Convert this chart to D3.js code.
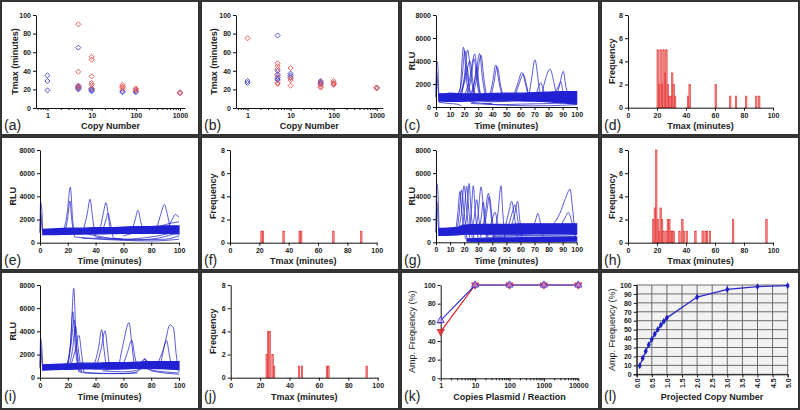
<!DOCTYPE html>
<html><head><meta charset="utf-8">
<script src="https://cdn.jsdelivr.net/npm/d3@7"></script>
<style>
body{margin:0;background:#fff}
svg{display:block}
text{font-family:"Liberation Sans",Arial,sans-serif}
</style>
</head><body>
<svg id="fig" width="800" height="410"></svg>
<script>
// ---------------- DATA ----------------
// (a) & (b) scatter: [copy number, Tmax]
const aBlue = [[1,35],[1,29],[1,19],[5,65],[5,24],[5,23],[5,22],[5,21],[5,20],[10,21],[10,20],[10,19],[10,18],[50,18],[50,17],[100,18],[100,17],[1000,16]];
const aRed  = [[5,90],[5,39],[5,24],[5,22],[10,55],[10,52],[10,34],[10,27],[10,25],[10,21],[50,25],[50,23],[50,22],[50,20],[100,21],[100,20],[100,19],[1000,17],[1000,16]];
const bBlue = [[1,29],[1,27],[5,78],[5,40],[5,36],[5,33],[5,31],[5,30],[10,37],[10,35],[10,33],[50,29],[50,27],[50,26],[100,26],[1000,22]];
const bRed  = [[1,75],[5,48],[5,45],[5,42],[5,35],[5,27],[5,26],[10,43],[10,32],[10,30],[10,24],[50,28],[50,25],[50,23],[50,22],[100,29],[100,27],[100,26],[100,25],[1000,22],[1000,21]];
const copyTicks = [1,10,100,1000];
const tmaxTicks = [0,20,40,60,80,100];

// histograms: [Tmax bin, frequency]
const dBins = [[20,5],[21,2],[22,5],[23,2],[24,5],[25,3],[26,5],[27,2],[28,1],[29,1],[30,3],[31,2],[32,1],[41,1],[42,2],[60,2],[70,1],[74,1],[81,1],[88,1],[90,1]];
const fBins = [[21,1],[22,1],[36,1],[47,1],[48,1],[70,1],[89,1]];
const hBins = [[17,2],[18,3],[19,8],[20,2],[21,1],[22,3],[23,2],[24,1],[26,1],[27,2],[28,2],[29,1],[30,1],[31,1],[35,1],[37,2],[38,1],[40,1],[46,1],[51,1],[53,1],[54,1],[56,1],[72,2],[95,2]];
const jBins = [[24,2],[25,4],[26,4],[28,2],[29,1],[46,1],[48,1],[65,1],[66,1],[92,1]];
const freqTicks = [0,2,4,6,8];

// RLU time courses. Baseline band: time, low, high
const cBandT  = [2,5,10,20,30,40,50,60,70,80,90,95,100];
const cBandLo = [500,500,480,500,520,540,540,520,500,450,350,300,250];
const cBandHi = [1150,1150,1200,1150,1150,1180,1200,1200,1250,1300,1350,1350,1350];
const cSpikes = [[[0,900],[0.4,4000],[1.2,3700],[2,800]],[[0,800],[0.5,3000],[1.5,1500],[2.5,700]]];
const cPeaks = [
 [[13,900],[17,1500],[19.5,5200],[22,2000],[25,400],[40,300]],
 [[15,900],[18.5,2500],[20.5,4900],[23,2000],[26,600]],
 [[16,900],[20,2500],[22.5,4950],[25,2500],[28,700]],
 [[17,900],[21,2500],[24,4000],[27,1500],[30,600]],
 [[18,900],[20,2200],[22,3500],[24,1500],[27,400]],
 [[20,900],[24,2500],[27.5,4600],[30,2000],[33,500]],
 [[21,900],[25,2500],[27,4200],[30,1500],[32,700]],
 [[24,900],[28,2500],[31,4650],[33,2500],[36,500]],
 [[26,900],[29,2500],[32,4500],[34,2500],[36,800]],
 [[25,900],[27,2000],[29,3500],[31,1500],[34,500]],
 [[38,900],[40,2000],[42.5,3650],[45,2000],[48,600]],
 [[39,900],[41,2000],[43.5,3500],[46,1800],[48,800]],
 [[55,900],[58,2000],[61,3000],[64,1800],[66,700]],
 [[56,900],[59,2000],[62,2850],[64.5,1800],[66,900]],
 [[66,900],[68,2500],[70.3,4100],[72.5,2500],[74,900]],
 [[71,1000],[73,1800],[74.5,2100],[76,1600],[78,900]],
 [[75,1000],[78,2500],[81,3300],[84,2000],[86,800]],
 [[84,1000],[87,1800],[88.8,2200],[90,1500],[91,1000]],
 [[86,1000],[88,2000],[90.5,3100],[92,2000],[94,800]]
];
const cLows = [
 [[2,400],[10,300],[15,250],[18,100]],
 [[25,300],[35,250],[45,200],[60,250],[80,300],[100,400]],
 [[30,650],[40,450],[50,500],[60,700]],
 [[33,300],[50,150],[70,100],[90,150],[100,200]]
];

const eBandT  = [2,10,20,30,40,50,60,70,80,90,100];
const eBandLo = [700,700,720,740,760,780,800,800,800,800,750];
const eBandHi = [1150,1200,1250,1250,1300,1300,1350,1400,1400,1450,1450];
const eSpikes = [[[0,900],[0.4,3500],[1.2,3000],[2,700]],[[0,800],[0.6,2500],[1.5,1200],[2.5,800]]];
const ePeaks = [
 [[17,1000],[19.5,2500],[21.8,4800],[23.5,2000],[25,500],[35,400],[50,300],[70,250],[85,400],[100,900]],
 [[18,1000],[20,2200],[21.5,3600],[23,1800],[25,800]],
 [[31,1000],[34,2500],[36,3750],[38,2000],[40,500],[60,300]],
 [[43,1000],[45.5,2500],[47.5,3450],[49.5,2000],[51,800]],
 [[45,1000],[47.5,2000],[49,2550],[50.5,1800],[53,400],[70,250],[90,300],[100,600]],
 [[66,1000],[68.5,2000],[70.5,2800],[72.5,1800],[75,900]],
 [[84,1200],[87,2500],[89.5,3300],[91.5,2500],[94,1000]],
 [[92,1300],[95,2000],[97.5,2450],[99,2300],[100,2200]]
];
const eLows = [
 [[25,1000],[40,600],[60,300],[80,500],[100,1000]],
 [[60,600],[80,1200],[97,1750],[100,1800]],
 [[30,400],[60,200],[80,150],[100,300]]
];

const gBandT  = [2,10,15,20,30,40,50,60,70,80,90,100];
const gBandLo = [600,620,650,700,700,700,700,700,720,720,720,700];
const gBandHi = [1200,1250,1300,1500,1550,1550,1550,1600,1600,1600,1600,1600];
const gBand2T  = [22,30,40,60,80,100];
const gBand2Lo = [100,80,80,80,80,100];
const gBand2Hi = [300,350,380,400,420,450];
const gSpikes = [[[0,900],[0.5,5100],[1.3,4500],[2.2,800]],[[0,800],[0.6,3500],[1.6,1500],[2.6,700]]];
const gPeaks = [
 [[14,1000],[15.5,2500],[17,4400],[18.5,2500],[21,300]],
 [[15,1000],[16.5,2500],[18.2,4550],[20,2500],[22,300]],
 [[16,1000],[18,2500],[19.9,4900],[22,2500],[24,300]],
 [[18,1000],[20,2500],[21.8,4850],[23.5,2500],[26,200]],
 [[20,1000],[22,2500],[23.5,5100],[25,2500],[27,300]],
 [[23,1000],[25,2500],[26.5,4900],[28,2500],[30,300]],
 [[25,1000],[27,2000],[28.9,3700],[30.5,2000],[32,400]],
 [[28,1000],[30,2500],[32,4800],[34,2500],[36,300]],
 [[30,1000],[32,2000],[33.6,3500],[35,2000],[37,400]],
 [[33,1000],[35,2500],[37.2,4250],[39,2500],[41,300]],
 [[34,1000],[36,2500],[37.9,3950],[40,2000],[42,500]],
 [[38,1200],[40,2000],[41.9,2600],[43.5,1800],[45,600]],
 [[42,1200],[44,2500],[46.2,4900],[47.5,2500],[49,300]],
 [[49,1200],[51.5,2500],[53.8,3550],[56,2000],[58,500]],
 [[51,1200],[54,2500],[56.2,3250],[58,2000],[60,600]],
 [[53,1200],[56,2500],[58,3550],[59.5,2000],[61,500]],
 [[69,1300],[71,2000],[72.3,2500],[74,1800],[76,500]],
 [[83,1500],[88,2500],[92,3800],[95.3,4600],[97,3000],[99,500]],
 [[89,1500],[92,2200],[94.1,2600],[96,2000],[98,900]]
];
const gLows = [
 [[35,650],[60,600],[80,620],[100,650]],
 [[40,500],[70,550],[100,500]]
];

const iBandT  = [2,10,20,30,40,50,60,70,80,90,100];
const iBandLo = [650,700,720,750,760,780,800,800,780,760,700];
const iBandHi = [1100,1150,1200,1250,1250,1300,1300,1350,1400,1400,1400];
const iSpikes = [[[0,900],[0.4,3400],[1.2,2800],[2,700]],[[0,800],[0.6,2600],[1.5,1200],[2.5,800]]];
const iPeaks = [
 [[19,1000],[22,3000],[24.3,7700],[26,3000],[28,600]],
 [[19,1000],[22,3000],[23.6,5700],[25.5,2500],[28,500]],
 [[20,1000],[22.5,3000],[24.5,5000],[26.5,2500],[29,500]],
 [[21,1000],[23.5,2500],[25.5,4500],[27.5,2500],[30,400]],
 [[22,1000],[25,2200],[28,3650],[30,2000],[32,400],[50,350],[70,400]],
 [[39,1100],[42,2500],[44.4,4150],[46,2500],[48,600]],
 [[41,1100],[44,2500],[46.8,4050],[48.5,2500],[50,700]],
 [[57,1200],[60,3000],[64,4750],[66,3000],[68,800]],
 [[60,1200],[63,2200],[66,3250],[68,2000],[70,800]],
 [[85,1300],[88,2200],[91.1,3200],[93,2000],[95,800]],
 [[87,1300],[90,3000],[93.5,4550],[96,4300],[98,2000],[100,500]]
];
const iLows = [
 [[28,500],[40,400],[60,350],[70,500],[75.5,1650],[78,700],[90,500],[100,400]],
 [[30,900],[50,700],[70,800],[75.5,1600],[80,900],[100,800]],
 [[45,600],[60,500],[74,800],[76,1500],[80,600],[100,300]]
];
const timeTicks10 = [0,10,20,30,40,50,60,70,80,90,100];
const timeTicks20 = [0,20,40,60,80,100];
const rluTicks = [0,2000,4000,6000,8000];

// (k) amplification frequency vs copies plasmid
const kCopies = [1,10,100,1000,10000];
const kBlue = [62,100,100,100,100];
const kRed  = [50,100,100,100,100];
const kYTicks = [0,20,40,60,80,100];

// (l) projected copy number vs amp. frequency
const lCopies = [0.1,0.2,0.3,0.4,0.5,0.6,0.7,0.8,0.9,1.0,2.0,3.0,4.0,5.0];
const lFreq   = [9.5,18.1,25.9,33.0,39.3,45.1,50.3,55.1,59.3,63.2,86.5,95.0,98.2,99.3];
const lXTicks = [0,0.5,1,1.5,2,2.5,3,3.5,4,4.5,5];
const lYTicks = [0,10,20,30,40,50,60,70,80,90,100];

// ---------------- DRAWING ----------------
const svg = d3.select("#fig");
const BLUE = "#2a2ad2", RED = "#e03a3a";
const LINEBLUE = "#2626cc";

// panel frames
const rowTops = [0,136,271], rowHs = [136,135,139];
rowTops.forEach((t,ri)=>{
  for(let c=0;c<4;c++){
    svg.append("rect").attr("x",c*200+1).attr("y",t+1).attr("width",198).attr("height",rowHs[ri]-2)
      .attr("fill","#fff").attr("stroke","#333").attr("stroke-width",2);
  }
});

function styleAxis(g, bold=true){
  g.select(".domain").attr("stroke","#111").attr("stroke-width",1);
  g.selectAll(".tick line").attr("stroke","#111").attr("stroke-width",1);
  g.selectAll(".tick text").attr("font-size","7px").attr("font-weight",bold?"bold":"normal")
    .attr("fill","#222").attr("font-family",'"Liberation Sans",Arial,sans-serif');
}
function yAxis(x0, y, ticks, fmt){
  const g = svg.append("g").attr("transform",`translate(${x0},0)`)
    .call(d3.axisLeft(y).tickValues(ticks).tickSize(3).tickSizeOuter(0).tickPadding(2).tickFormat(fmt||d3.format("d")));
  styleAxis(g); return g;
}
function xAxis(y0, x, ticks, fmt){
  const g = svg.append("g").attr("transform",`translate(0,${y0})`)
    .call(d3.axisBottom(x).tickValues(ticks).tickSize(3).tickSizeOuter(0).tickPadding(2).tickFormat(fmt||d3.format("d")));
  styleAxis(g); return g;
}
function minorX(y0, x, ticks){
  const g = svg.append("g").attr("transform",`translate(0,${y0})`)
    .call(d3.axisBottom(x).tickValues(ticks).tickSize(2).tickFormat(""));
  g.select(".domain").remove();
  g.selectAll(".tick line").attr("stroke","#111");
}
function logMinors(lo, hi){
  const out=[];
  for(let p=lo;p<hi;p*=10){ for(let k=2;k<10;k++) out.push(p*k); }
  return out;
}
function label(x,y,txt,opts={}){
  const t = svg.append("text").attr("x",x).attr("y",y).text(txt)
    .attr("font-size",opts.size||"9px").attr("font-weight",opts.weight||"bold")
    .attr("fill",opts.fill||"#222").attr("text-anchor",opts.anchor||"middle");
  return t;
}
function yLabel(x,y,txt,opts={}){
  svg.append("text").attr("transform",`translate(${x},${y}) rotate(-90)`).attr("dy","0.35em")
    .attr("text-anchor","middle").attr("font-size",opts.size||"9px").attr("font-weight",opts.weight||"bold")
    .attr("fill","#222").text(txt);
}
function panelLetter(x,y,txt){
  svg.append("text").attr("x",x).attr("y",y).text(txt).attr("font-size","14px").attr("fill","#222");
}

// --- scatter panels ---
const diamond = d3.symbol().type(d3.symbolSquare).size(13);
function scatterPanel(o){
  const x = d3.scaleLog().domain(o.xd).range([o.x0,o.x1]);
  const y = d3.scaleLinear().domain([0,100]).range([o.y0,o.y1]);
  yAxis(o.x0, y, tmaxTicks);
  xAxis(o.y0, x, copyTicks);
  minorX(o.y0, x, logMinors(1,1000).concat([0.6,0.7,0.8,0.9]));
  const g = svg.append("g");
  [[o.blue,"#4848d0"],[o.red,"#e85858"]].forEach(([data,col])=>{
    g.selectAll(null).data(data).enter().append("path")
      .attr("d",diamond).attr("transform",d=>`translate(${x(d[0])},${y(d[1])}) rotate(45)`)
      .attr("fill","none").attr("stroke",col).attr("stroke-width",0.9);
  });
  yLabel(o.ylx, (o.y0+o.y1)/2, "Tmax (minutes)");
  label((o.x0+o.x1)/2, o.xly, "Copy Number");
}
scatterPanel({xd:[0.55,1300],x0:36,x1:185,y0:108,y1:15,blue:aBlue,red:aRed,ylx:15,xly:129});
scatterPanel({xd:[0.54,1380],x0:236,x1:382.7,y0:108,y1:15,blue:bBlue,red:bRed,ylx:214,xly:129});
panelLetter(4,130,"(a)");
panelLetter(204,130,"(b)");

// --- time course panels ---
function tsPanel(o){
  const x = d3.scaleLinear().domain([0,100]).range([o.x0,o.x1]);
  const y = d3.scaleLinear().domain([0,8000]).range([o.y0,o.y1]);
  const g = svg.append("g");
  const line = d3.line().x(d=>x(d[0])).y(d=>y(d[1])).curve(d3.curveMonotoneX);
  const area = d3.area().x(d=>x(d.t)).y0(d=>y(d.lo)).y1(d=>y(d.hi)).curve(d3.curveMonotoneX);
  o.bands.forEach(b=>{
    const rows = b[0].map((t,i)=>({t, lo:b[1][i], hi:b[2][i]}));
    g.append("path").attr("d",area(rows)).attr("fill","#2020d4").attr("stroke","#2020d4").attr("stroke-width",1.2);
  });
  [...o.lows, ...o.spikes, ...o.peaks].forEach(tr=>{
    g.append("path").attr("d",line(tr)).attr("fill","none").attr("stroke",LINEBLUE)
      .attr("stroke-width",0.9).attr("stroke-opacity",0.85);
  });
  yAxis(o.x0, y, rluTicks);
  xAxis(o.y0, x, o.xt);
  yLabel(o.ylx, (o.y0+o.y1)/2, "RLU");
  label((o.x0+o.x1)/2, o.xly, "Time (minutes)");
}
tsPanel({x0:436,x1:576.7,y0:107,y1:15,xt:timeTicks10,ylx:412,xly:129,
  bands:[[cBandT,cBandLo,cBandHi]],spikes:cSpikes,peaks:cPeaks,lows:cLows});
tsPanel({x0:40,x1:179,y0:242.7,y1:150,xt:timeTicks20,ylx:13,xly:264,
  bands:[[eBandT,eBandLo,eBandHi]],spikes:eSpikes,peaks:ePeaks,lows:eLows});
tsPanel({x0:436,x1:576.7,y0:242.3,y1:150,xt:timeTicks10,ylx:412,xly:264,
  bands:[[gBandT,gBandLo,gBandHi],[gBand2T,gBand2Lo,gBand2Hi]],spikes:gSpikes,peaks:gPeaks,lows:gLows});
tsPanel({x0:40,x1:179,y0:377.7,y1:285,xt:timeTicks20,ylx:13,xly:399.5,
  bands:[[iBandT,iBandLo,iBandHi]],spikes:iSpikes,peaks:iPeaks,lows:iLows});
panelLetter(404,130,"(c)");
panelLetter(4,265,"(e)");
panelLetter(404,265,"(g)");
panelLetter(4,401,"(i)");

// --- histograms ---
function histPanel(o){
  const x = d3.scaleLinear().domain([0,100]).range([o.x0,o.x1]);
  const y = d3.scaleLinear().domain([0,8]).range([o.y0,o.y1]);
  svg.append("g").selectAll(null).data(o.bins).enter().append("rect")
    .attr("x",d=>x(d[0])).attr("width",x(1)-x(0)).attr("y",d=>y(d[1])).attr("height",d=>o.y0-y(d[1]))
    .attr("fill","#f58a8a").attr("stroke","#e23030").attr("stroke-width",0.6);
  yAxis(o.x0, y, freqTicks);
  xAxis(o.y0, x, timeTicks20);
  yLabel(o.ylx, (o.y0+o.y1)/2, "Frequency");
  label((o.x0+o.x1)/2, o.xly, "Tmax (minutes)");
}
histPanel({x0:628,x1:773,y0:107.7,y1:15,bins:dBins,ylx:612,xly:129});
histPanel({x0:230,x1:376.7,y0:242.7,y1:150,bins:fBins,ylx:213,xly:264});
histPanel({x0:628,x1:773,y0:242.7,y1:150,bins:hBins,ylx:612,xly:264});
histPanel({x0:230.7,x1:377.7,y0:377.7,y1:285,bins:jBins,ylx:213,xly:399.5});
panelLetter(604,130,"(d)");
panelLetter(204,265,"(f)");
panelLetter(604,265,"(h)");
panelLetter(204,401,"(j)");

// --- (k) ---
(function(){
  const x = d3.scaleLog().domain([1,10000]).range([440.7,578.3]);
  const y = d3.scaleLinear().domain([0,100]).range([378.3,285]);
  yAxis(440.7, y, kYTicks);
  xAxis(378.3, x, kCopies);
  minorX(378.3, x, logMinors(1,10000));
  const line = d3.line().x((d,i)=>x(kCopies[i])).y(d=>y(d));
  svg.append("path").attr("d",line(kRed)).attr("fill","none").attr("stroke","#d82020").attr("stroke-width",1.2);
  svg.append("path").attr("d",line(kBlue)).attr("fill","none").attr("stroke","#3030d0").attr("stroke-width",1.2);
  const tri = d3.symbol().type(d3.symbolTriangle).size(22);
  svg.append("g").selectAll(null).data(kRed).enter().append("path").attr("d",tri)
    .attr("transform",(d,i)=>`translate(${x(kCopies[i])},${y(d)}) rotate(180)`)
    .attr("fill","#e03030").attr("fill-opacity",0.8).attr("stroke","#d02020").attr("stroke-width",0.8);
  svg.append("g").selectAll(null).data(kBlue).enter().append("path").attr("d",tri)
    .attr("transform",(d,i)=>`translate(${x(kCopies[i])},${y(d)})`)
    .attr("fill","#c8a8ff").attr("fill-opacity",0.6).attr("stroke","#5030d0").attr("stroke-width",0.9);
  yLabel(411.5, (378.3+285)/2, "Amp. Frequency (%)", {weight:"normal"});
  label(509.5, 399.5, "Copies Plasmid / Reaction");
  panelLetter(404,401,"(k)");
})();

// --- (l) ---
(function(){
  const x = d3.scaleLinear().domain([0,5]).range([636.7,787.7]);
  const y = d3.scaleLinear().domain([0,100]).range([374.3,285]);
  svg.append("rect").attr("x",x(0)).attr("y",y(100)).attr("width",x(5)-x(0)).attr("height",y(0)-y(100))
    .attr("fill","#f2f2f2");
  const gr = svg.append("g");
  gr.selectAll(null).data(lXTicks).enter().append("line")
    .attr("x1",d=>x(d)).attr("x2",d=>x(d)).attr("y1",y(0)).attr("y2",y(100)).attr("stroke","#6a6a6a").attr("stroke-width",1);
  gr.selectAll(null).data(lYTicks).enter().append("line")
    .attr("y1",d=>y(d)).attr("y2",d=>y(d)).attr("x1",x(0)).attr("x2",x(5)).attr("stroke","#6a6a6a").attr("stroke-width",1);
  const ya = svg.append("g").attr("transform",`translate(${x(0)},0)`)
    .call(d3.axisLeft(y).tickValues(lYTicks).tickSize(3).tickPadding(2).tickFormat(d3.format("d")));
  styleAxis(ya);
  const xa = svg.append("g").attr("transform",`translate(0,${y(0)})`)
    .call(d3.axisBottom(x).tickValues(lXTicks).tickSize(3).tickFormat(d3.format(".1f")));
  styleAxis(xa);
  xa.selectAll(".tick text").attr("transform","rotate(-90)").attr("text-anchor","end")
    .attr("x",-4).attr("y",0).attr("dy","0.35em");
  const line = d3.line().x((d,i)=>x(lCopies[i])).y(d=>y(d));
  svg.append("path").attr("d",line(lFreq)).attr("fill","none").attr("stroke","#2828c8").attr("stroke-width",1.3);
  const dia = d3.symbol().type(d3.symbolDiamond).size(14);
  svg.append("g").selectAll(null).data(lFreq).enter().append("path").attr("d",dia)
    .attr("transform",(d,i)=>`translate(${x(lCopies[i])},${y(d)})`).attr("fill","#2020c0");
  yLabel(611.5, (374.3+285)/2, "Amp. Frequency (%)", {weight:"normal"});
  label(712, 399.5, "Projected Copy Number");
  panelLetter(604,401,"(l)");
})();
</script>
</body></html>
